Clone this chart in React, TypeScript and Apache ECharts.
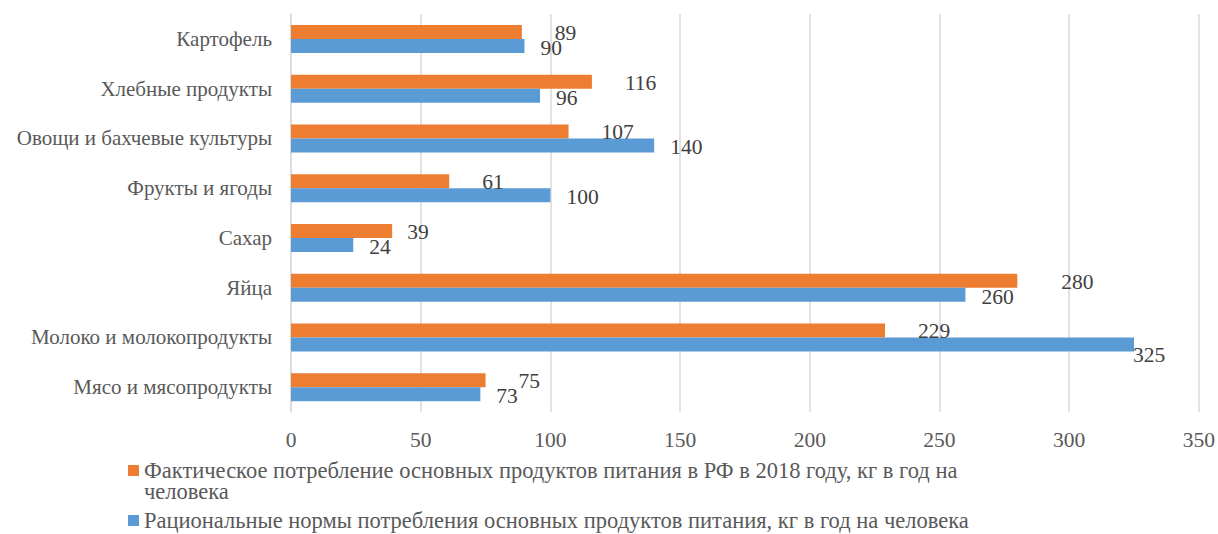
import React, { useEffect, useRef } from "react";
import * as echarts from "echarts";

const categories = [
  "Картофель",
  "Хлебные продукты",
  "Овощи и бахчевые культуры",
  "Фрукты и ягоды",
  "Сахар",
  "Яйца",
  "Молоко и молокопродукты",
  "Мясо и мясопродукты",
];
const actualName =
  "Фактическое потребление основных продуктов питания в РФ в 2018 году, кг в год на человека";
const normName =
  "Рациональные нормы потребления основных продуктов питания, кг в год на человека";
const actualValues = [89, 116, 107, 61, 39, 280, 229, 75];
const normValues = [90, 96, 140, 100, 24, 260, 325, 73];
const xTicks = { min: 0, max: 350, interval: 50 };

const FONT = "Liberation Serif";
const ORANGE = "#ED7D31";
const BLUE = "#5B9BD5";

// per-bar label placement tweaks (style only)
const actualLabelDist: Record<number, number> = { 4: 15, 5: 44 };
const normLabelTweak: Record<number, { distance: number; offset: [number, number] }> = {
  6: { distance: -1, offset: [0, 11] },
};

export default function App() {
  const ref = useRef<HTMLDivElement>(null);
  useEffect(() => {
    document.body.style.margin = "0";
    if (!ref.current) return;
    const chart = echarts.init(ref.current, undefined, { renderer: "svg" });
    const labelBase = {
      show: true,
      position: "right" as const,
      color: "#404040",
      fontSize: 21.5,
      lineHeight: 16,
      fontFamily: FONT,
    };
    const legendText = { color: "#595959", fontSize: 22.5, lineHeight: 22, fontFamily: FONT };
    chart.setOption({
      animation: false,
      backgroundColor: "#ffffff",
      textStyle: { fontFamily: FONT },
      grid: { left: 291, right: 19, top: 14, bottom: 122 },
      xAxis: {
        type: "value",
        min: xTicks.min,
        max: xTicks.max,
        interval: xTicks.interval,
        axisLine: { show: false },
        axisTick: { show: false },
        splitLine: { show: true, lineStyle: { color: "#d9d9d9", width: 1.5 } },
        axisLabel: { color: "#595959", fontSize: 21.5, fontFamily: FONT, margin: 17 },
      },
      yAxis: {
        type: "category",
        inverse: true,
        data: categories,
        axisLine: { show: true, lineStyle: { color: "#d9d9d9", width: 1.5 } },
        axisTick: { show: false },
        axisLabel: { color: "#595959", fontSize: 21, fontFamily: FONT, margin: 19 },
      },
      legend: [
        {
          data: [actualName],
          orient: "vertical",
          left: 123,
          top: 454,
          icon: "rect",
          itemWidth: 11,
          itemHeight: 11,
          formatter: () =>
            "Фактическое потребление основных продуктов питания в РФ в 2018 году, кг в год на",
          textStyle: legendText,
        },
        {
          data: [normName],
          orient: "vertical",
          left: 123,
          top: 504,
          icon: "rect",
          itemWidth: 11,
          itemHeight: 11,
          textStyle: legendText,
        },
      ],
      graphic: [
        {
          type: "text",
          left: 144,
          top: 480,
          style: {
            text: "человека",
            fill: "#595959",
            fontSize: 22.5,
            lineHeight: 22,
            fontFamily: FONT,
          },
        },
      ],
      series: [
        {
          name: actualName,
          type: "bar",
          barWidth: 14,
          barGap: "0%",
          itemStyle: { color: ORANGE },
          label: { ...labelBase, distance: 33, offset: [0, 1] },
          data: actualValues.map((v, i) =>
            actualLabelDist[i] !== undefined
              ? { value: v, label: { distance: actualLabelDist[i] } }
              : v
          ),
        },
        {
          name: normName,
          type: "bar",
          barWidth: 14,
          barGap: "0%",
          itemStyle: { color: BLUE },
          label: { ...labelBase, distance: 16, offset: [0, 2] },
          data: normValues.map((v, i) =>
            normLabelTweak[i] ? { value: v, label: normLabelTweak[i] } : v
          ),
        },
      ],
    });
    return () => chart.dispose();
  }, []);
  return <div ref={ref} style={{ width: 1218, height: 534 }} />;
}
